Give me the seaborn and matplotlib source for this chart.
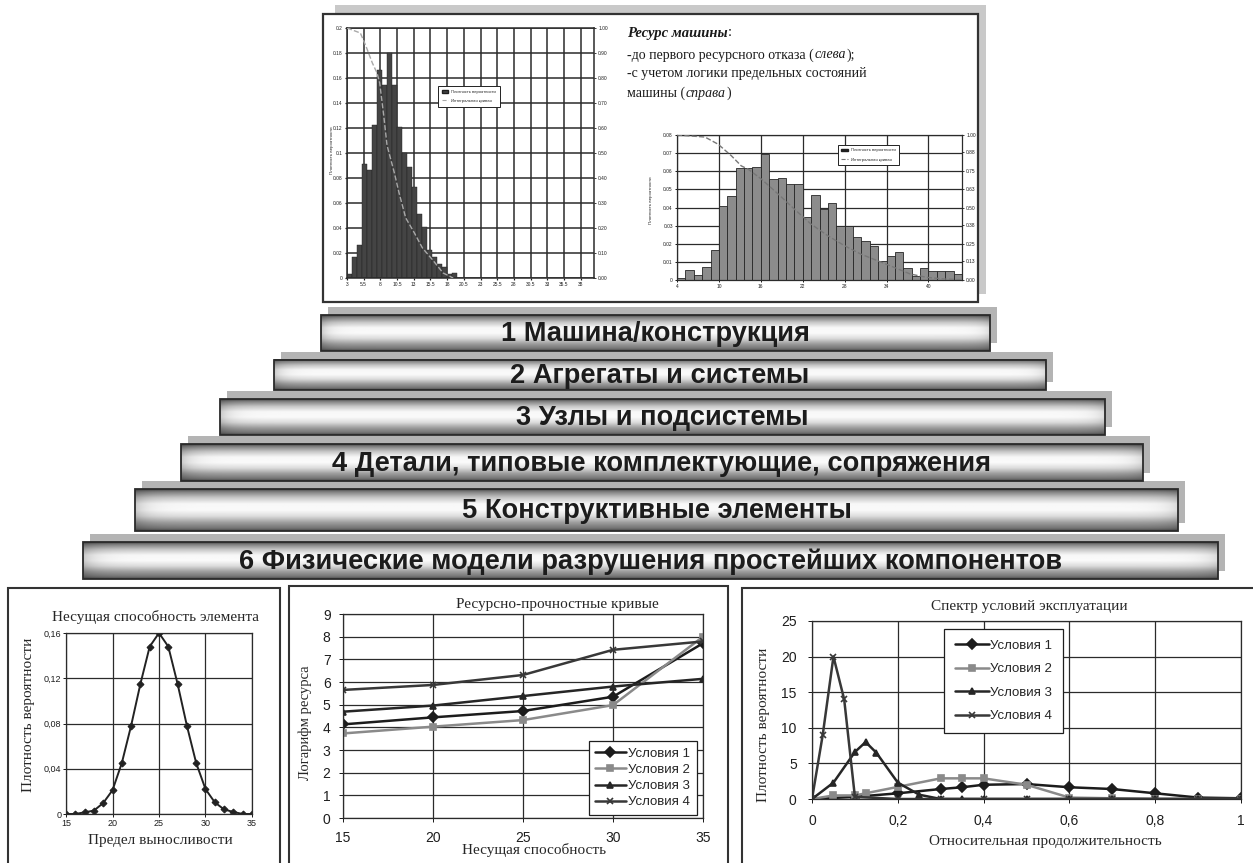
import numpy as np
import pandas as pd
import matplotlib
matplotlib.use("Agg")
import matplotlib.pyplot as plt
import seaborn as sns
from matplotlib.patches import Rectangle, Patch
from matplotlib.lines import Line2D

sns.set_theme(style="white")
SANS = ['Liberation Sans', 'DejaVu Sans']
SERIF = ['Liberation Serif', 'DejaVu Serif']
plt.rcParams['font.family'] = SANS

# ------------------------------------------------------------------ DATA
level_labels = [
    "1 Машина/конструкция",
    "2 Агрегаты и системы",
    "3 Узлы и подсистемы",
    "4 Детали, типовые комплектующие, сопряжения",
    "5 Конструктивные элементы",
    "6 Физические модели разрушения простейших компонентов",
]

# top-left histogram (resource to first failure)
res1_x = [3.38, 4.13, 4.88, 5.63, 6.38, 7.13, 7.88, 8.63, 9.38, 10.13, 10.88,
          11.63, 12.38, 13.13, 13.88, 14.63, 15.38, 16.13, 16.88, 17.63, 18.38, 19.13]
res1_density = [0.003, 0.017, 0.026, 0.091, 0.086, 0.122, 0.166, 0.154, 0.180, 0.154, 0.121,
                0.100, 0.089, 0.073, 0.051, 0.041, 0.022, 0.017, 0.011, 0.009, 0.003, 0.004]
res1_curve_x = [3.0, 5.0, 5.8, 6.8, 7.5, 7.9, 8.5, 9.0, 10.1, 10.8, 11.8, 13.1, 14.3, 15.9, 17.4, 18.9]
res1_curve_y = [1.00, 0.98, 0.93, 0.86, 0.82, 0.78, 0.65, 0.53, 0.42, 0.34, 0.24, 0.18, 0.12, 0.07, 0.02, 0.00]
res1_xticklabels = ["3", "5.5", "8", "10.5", "13", "15.5", "18", "20.5", "23", "25.5",
                    "28", "30.5", "33", "35.5", "38"]
res1_yticklabels = ["0", "0.02", "0.04", "0.06", "0.08", "0.1", "0.12", "0.14", "0.16", "0.18", "0.2"]
res1_y2ticklabels = ["0.00", "0.10", "0.20", "0.30", "0.40", "0.50", "0.60", "0.70", "0.80", "0.90", "1.00"]

# top-right histogram (resource with limit-state logic)
res2_x = [4.6, 5.8, 7.0, 8.2, 9.4, 10.6, 11.8, 13.0, 14.2, 15.4, 16.6, 17.8, 19.0, 20.2, 21.4,
          22.6, 23.8, 25.0, 26.2, 27.4, 28.6, 29.8, 31.0, 32.2, 33.4, 34.6, 35.8, 37.0, 38.2,
          39.4, 40.6, 41.8, 43.0, 44.2]
res2_density = [0.001, 0.0055, 0.003, 0.007, 0.0165, 0.041, 0.0465, 0.062, 0.062, 0.0626, 0.0697,
                0.0556, 0.0565, 0.0532, 0.0528, 0.0345, 0.047, 0.039, 0.0424, 0.030, 0.030, 0.0235,
                0.0217, 0.019, 0.0106, 0.0134, 0.0156, 0.0066, 0.0024, 0.0064, 0.0048, 0.0051,
                0.0048, 0.0033]
res2_curve_x = [4.0, 8.0, 9.9, 11.8, 13.2, 14.2, 16.1, 18.5, 20.8, 23.2, 25.6, 28.0, 30.3, 32.7,
                35.1, 37.4, 39.8, 42.2, 44.8]
res2_curve_y = [1.0, 0.986, 0.936, 0.856, 0.787, 0.764, 0.695, 0.592, 0.489, 0.385, 0.305, 0.236,
                0.179, 0.133, 0.087, 0.041, 0.018, 0.007, 0.002]
res2_xticklabels = ["4", "10", "16", "22", "28", "34", "40"]
res2_yticklabels = ["0", "0.01", "0.02", "0.03", "0.04", "0.05", "0.06", "0.07", "0.08"]
res2_y2ticklabels = ["0.00", "0.13", "0.25", "0.38", "0.50", "0.63", "0.75", "0.88", "1.00"]
hist_legend_labels = ["Плотность вероятности", "Интегральная кривая"]

# bottom-left: element load capacity
strength_x = [15, 16, 17, 18, 19, 20, 21, 22, 23, 24, 25, 26, 27, 28, 29, 30, 31, 32, 33, 34, 35]
strength_pdf = [0.0, 0.0, 0.0015, 0.003, 0.0097, 0.021, 0.045, 0.078, 0.115, 0.148, 0.160,
                0.148, 0.115, 0.078, 0.045, 0.022, 0.0103, 0.004, 0.0018, 0.0, 0.0]
strength_yticklabels = ["0", "0,04", "0,08", "0,12", "0,16"]

# bottom-middle: resource-strength curves
cond_names = ["Условия 1", "Условия 2", "Условия 3", "Условия 4"]
capacity = [15, 20, 25, 30, 35]
log_res_1 = [4.13, 4.44, 4.72, 5.35, 7.71]
log_res_2 = [3.73, 4.03, 4.32, 4.98, 8.00]
log_res_3 = [4.69, 4.96, 5.38, 5.80, 6.14]
log_res_4 = [5.65, 5.87, 6.31, 7.42, 7.79]

# bottom-right: spectrum of operating conditions
cond1_x = [0, 0.1, 0.2, 0.3, 0.35, 0.4, 0.5, 0.6, 0.7, 0.8, 0.9, 1.0]
cond1_y = [0, 0.3, 0.8, 1.4, 1.65, 2.0, 2.1, 1.65, 1.4, 0.8, 0.2, 0.1]
cond2_x = [0, 0.05, 0.1, 0.125, 0.2, 0.3, 0.35, 0.4, 0.5, 0.6, 0.7, 0.8, 0.9, 1.0]
cond2_y = [0, 0.5, 0.5, 0.8, 1.7, 2.9, 2.9, 2.9, 2.0, 0.2, 0.1, 0.0, 0.0, 0.0]
cond3_x = [0, 0.05, 0.1, 0.125, 0.15, 0.2, 0.25, 0.3, 0.35, 0.4, 0.5, 0.6, 0.7, 0.8, 0.9, 1.0]
cond3_y = [0, 2.3, 6.6, 8.0, 6.5, 2.3, 0.6, 0, 0, 0, 0, 0, 0, 0, 0, 0]
cond4_x = [0, 0.025, 0.05, 0.075, 0.1, 0.2, 0.3, 0.4, 0.5, 0.6, 0.7, 0.8, 0.9, 1.0]
cond4_y = [0, 9.0, 20.0, 14.0, 0.3, 0, 0, 0, 0, 0, 0, 0, 0, 0]
spectrum_xticklabels = ["0", "0,2", "0,4", "0,6", "0,8", "1"]

# ------------------------------------------------------------------ LAYOUT
W, H = 1253, 863
fig = plt.figure(figsize=(W / 100, H / 100), dpi=100)
fig.patch.set_facecolor('white')


def px_rect(l, t, r, b):
    return [l / W, 1 - b / H, (r - l) / W, (b - t) / H]


ax_bg = fig.add_axes([0, 0, 1, 1])
ax_bg.set_axis_off()

# top panel box with shadow
ax_bg.add_patch(Rectangle((335, 5), 986 - 335, 294 - 5, facecolor='#c9c9c9', edgecolor='none', zorder=1))
ax_bg.add_patch(Rectangle((323, 14), 978 - 323, 302 - 14, facecolor='white', edgecolor='#333333', lw=1.6, zorder=1.5))

# bottom panel boxes
for (l, t, r, b) in [(8, 588, 280, 880), (289, 586, 728, 880), (742, 588, 1270, 880)]:
    ax_bg.add_patch(Rectangle((l, t), r - l, b - t, facecolor='white', edgecolor='#333333', lw=1.5, zorder=1.5))

# pyramid of levels (metallic cylinders)
bars_px = [(321, 315, 990, 351), (274, 360, 1046, 390), (220, 399, 1105, 435),
           (181, 444, 1143, 481), (135, 489, 1178, 531), (83, 542, 1218, 579)]
prof_pos = [0, 0.06, 0.2, 0.35, 0.5, 0.65, 0.8, 0.94, 1.0]
prof_val = [0.28, 0.50, 0.78, 0.97, 0.98, 0.86, 0.62, 0.45, 0.28]
col = np.interp(np.linspace(0, 1, 80), prof_pos, prof_val)
hx = np.linspace(0, 1, 400)
hfac = 1 - 0.18 * np.exp(-hx / 0.012) - 0.12 * np.exp(-(1 - hx) / 0.012)
grad = col[:, None] * hfac[None, :]
for (l, t, r, b), lab in zip(bars_px, level_labels):
    ax_bg.add_patch(Rectangle((l + 7, t - 8), r - l, b - t, facecolor='#b4b4b4', edgecolor='none', zorder=2))
    ax_bg.imshow(grad, cmap='gray', vmin=0, vmax=1, extent=(l, r, b, t), aspect='auto',
                 interpolation='bilinear', zorder=3)
    ax_bg.add_patch(Rectangle((l, t), r - l, b - t, facecolor='none', edgecolor='#2a2a2a', lw=1.3, zorder=4))
    ax_bg.text((l + r) / 2, (t + b) / 2 + 1, lab, ha='center', va='center', fontsize=19.6,
               weight='bold', color='#1c1c1c', family=SANS, zorder=5)

ax_bg.set_xlim(0, W)
ax_bg.set_ylim(H, 0)

# ---- top descriptive text with mixed styles
renderer = fig.canvas.get_renderer()


def rich_line(x, y, pieces, size=10):
    for txt, st, wt in pieces:
        t = ax_bg.text(x, y, txt, fontsize=size, family=SERIF, style=st, weight=wt,
                       ha='left', va='center', color='#1a1a1a', zorder=6)
        x += t.get_window_extent(renderer=renderer).width + 0.5


rich_line(627, 33, [("Ресурс машины", 'italic', 'bold'), (":", 'normal', 'normal')], 10.5)
rich_line(627, 55, [("-до первого ресурсного отказа (", 'normal', 'normal'), ("слева", 'italic', 'normal'),
                    (");", 'normal', 'normal')])
rich_line(627, 74, [("-с учетом логики предельных состояний", 'normal', 'normal')])
rich_line(627, 93, [("машины (", 'normal', 'normal'), ("справа", 'italic', 'normal'), (")", 'normal', 'normal')])


def excel_axes(ax, lw=0.9, fs=9, pad=3, length=3, gc='#2b2b2b'):
    ax.set_facecolor('white')
    ax.grid(True, color=gc, linewidth=lw)
    ax.set_axisbelow(True)
    for s in ax.spines.values():
        s.set_color(gc)
        s.set_linewidth(lw)
    ax.tick_params(axis='both', which='both', direction='out', length=length, width=lw * 0.8,
                   colors='#1e1e1e', labelsize=fs, pad=pad, bottom=True, left=True)
    ax.set_xlabel('')
    ax.set_ylabel('')


# ---- top-left histogram
ax_h1 = fig.add_axes(px_rect(347, 28, 594, 278))
sns.barplot(x=res1_x, y=res1_density, native_scale=True, width=1.0, color='#444444', saturation=1,
            edgecolor='#1e1e1e', linewidth=0.3, errorbar=None, ax=ax_h1)
excel_axes(ax_h1, lw=1.1, fs=3.5, pad=1.5, length=1.5)
ax_h1.set_xlim(3, 40)
ax_h1.set_xticks([float(v) for v in res1_xticklabels])
ax_h1.set_xticklabels(res1_xticklabels)
ax_h1.set_ylim(0, 0.2)
ax_h1.set_yticks([float(v) for v in res1_yticklabels])
ax_h1.set_yticklabels(res1_yticklabels)
ax_h1b = ax_h1.twinx()
sns.lineplot(x=res1_curve_x, y=res1_curve_y, ax=ax_h1b, color='#a8a8a8', linewidth=1.0, linestyle='--')
ax_h1b.set_ylim(0, 1)
ax_h1b.set_yticks([float(v) for v in res1_y2ticklabels])
ax_h1b.set_yticklabels(res1_y2ticklabels)
ax_h1b.grid(False)
ax_h1b.set_ylabel('')
for s in ax_h1b.spines.values():
    s.set_visible(False)
ax_h1b.tick_params(axis='y', right=True, length=1.5, width=0.6, labelsize=3.5, pad=1.5, colors='#1e1e1e')
leg_handles = [Patch(facecolor='#444444', edgecolor='#1e1e1e', label=hist_legend_labels[0]),
               Line2D([], [], color='#a8a8a8', ls='--', lw=0.8, label=hist_legend_labels[1])]
lg = ax_h1b.legend(handles=leg_handles, loc='upper left', bbox_to_anchor=(0.368, 0.768), fontsize=3,
                   frameon=True, fancybox=False, edgecolor='#222222', framealpha=1, borderaxespad=0,
                   handlelength=1.5, labelspacing=1.2, borderpad=0.9)
lg.get_frame().set_linewidth(0.7)
ax_bg.text(332, 150, "Плотность вероятности", rotation=90, fontsize=3.2, ha='center', va='center', zorder=6)

# ---- top-right histogram
ax_h2 = fig.add_axes(px_rect(677, 135, 962, 280))
sns.barplot(x=res2_x, y=res2_density, native_scale=True, width=1.0, color='#8c8c8c', saturation=1,
            edgecolor='#262626', linewidth=0.6, errorbar=None, ax=ax_h2)
excel_axes(ax_h2, lw=0.9, fs=3.5, pad=1.5, length=1.5)
ax_h2.set_xlim(4, 44.8)
ax_h2.set_xticks([float(v) for v in res2_xticklabels])
ax_h2.set_xticklabels(res2_xticklabels)
ax_h2.set_ylim(0, 0.08)
ax_h2.set_yticks([float(v) for v in res2_yticklabels])
ax_h2.set_yticklabels(res2_yticklabels)
ax_h2b = ax_h2.twinx()
sns.lineplot(x=res2_curve_x, y=res2_curve_y, ax=ax_h2b, color='#777777', linewidth=1.0, linestyle='--')
ax_h2b.set_ylim(0, 1)
ax_h2b.set_yticks([float(v) for v in res2_y2ticklabels])
ax_h2b.set_yticklabels(res2_y2ticklabels)
ax_h2b.grid(False)
ax_h2b.set_ylabel('')
for s in ax_h2b.spines.values():
    s.set_visible(False)
ax_h2b.tick_params(axis='y', right=True, length=1.5, width=0.6, labelsize=3.5, pad=1.5, colors='#1e1e1e')
leg_handles2 = [Patch(facecolor='#222222', edgecolor='#1e1e1e', label=hist_legend_labels[0]),
                Line2D([], [], color='#777777', ls='--', lw=0.8, label=hist_legend_labels[1])]
lg2 = ax_h2b.legend(handles=leg_handles2, loc='upper left', bbox_to_anchor=(0.565, 0.93), fontsize=3,
                    frameon=True, fancybox=False, edgecolor='#222222', framealpha=1, borderaxespad=0,
                    handlelength=1.5, labelspacing=1.3, borderpad=0.8)
lg2.get_frame().set_linewidth(0.7)
ax_bg.text(651, 200, "Плотность вероятности", rotation=90, fontsize=3.2, ha='center', va='center', zorder=6)

# ---- bottom-left: load capacity density
ax_s = fig.add_axes(px_rect(66, 633, 252, 814))
excel_axes(ax_s, lw=0.9, fs=6.5, pad=1.5, length=2)
sns.lineplot(x=strength_x, y=strength_pdf, ax=ax_s, color='#222222', linewidth=1.4, marker='D',
             markersize=3.5, markeredgecolor='#222222', markerfacecolor='#222222')
ax_s.set_xlim(15, 35)
ax_s.set_xticks([15, 20, 25, 30, 35])
ax_s.set_ylim(0, 0.16)
ax_s.set_yticks([float(v.replace(',', '.')) for v in strength_yticklabels])
ax_s.set_yticklabels(strength_yticklabels)
ax_s.set_xlabel('')
ax_s.set_ylabel('')
ax_bg.text(156, 617, "Несущая способность элемента", fontsize=11, family=SERIF, ha='center', va='center', zorder=6)
ax_bg.text(160, 840, "Предел выносливости", fontsize=11, family=SERIF, ha='center', va='center', zorder=6)
ax_bg.text(29, 715, "Плотность вероятности", fontsize=11, family=SERIF, rotation=90, ha='center', va='center', zorder=6)

# ---- bottom-middle: resource-strength curves
line_colors = ['#1c1c1c', '#8a8a8a', '#262626', '#383838']
line_markers = ['D', 's', '^', 'x']
ax_m = fig.add_axes(px_rect(343, 614, 703, 818))
excel_axes(ax_m, lw=0.9, fs=10, pad=6, length=3)
for name, ys, c, m in zip(cond_names, [log_res_1, log_res_2, log_res_3, log_res_4], line_colors, line_markers):
    sns.lineplot(x=capacity, y=ys, ax=ax_m, color=c, linewidth=1.8, marker=m, markersize=5,
                 markeredgecolor=c, markerfacecolor=c, markeredgewidth=1.2, label=name)
ax_m.set_xlim(15, 35)
ax_m.set_xticks(capacity)
ax_m.set_ylim(0, 9)
ax_m.set_yticks(range(0, 10))
ax_m.set_xlabel('')
ax_m.set_ylabel('')
h, l = ax_m.get_legend_handles_labels()
lgm = ax_m.legend(h, l, loc='lower right', bbox_to_anchor=(0.983, 0.015), frameon=True, fancybox=False,
                  edgecolor='#1e1e1e', framealpha=1, fontsize=9.5, handlelength=2.3, handletextpad=0.2,
                  labelspacing=0.3, borderpad=0.5, borderaxespad=0)
lgm.get_frame().set_linewidth(0.9)
ax_bg.text(557, 604, "Ресурсно-прочностные кривые", fontsize=11, family=SERIF, ha='center', va='center', zorder=6)
ax_bg.text(534, 850, "Несущая способность", fontsize=11, family=SERIF, ha='center', va='center', zorder=6)
ax_bg.text(305, 723, "Логарифм ресурса", fontsize=10.5, family=SERIF, rotation=90, ha='center', va='center', zorder=6)

# ---- bottom-right: spectrum of operating conditions
ax_r = fig.add_axes(px_rect(812, 621, 1241, 799))
excel_axes(ax_r, lw=0.9, fs=10, pad=8, length=3)
for name, xs, ys, c, m in zip(cond_names, [cond1_x, cond2_x, cond3_x, cond4_x],
                              [cond1_y, cond2_y, cond3_y, cond4_y], line_colors, line_markers):
    sns.lineplot(x=xs, y=ys, ax=ax_r, color=c, linewidth=1.8, marker=m, markersize=5,
                 markeredgecolor=c, markerfacecolor=c, markeredgewidth=1.2, label=name)
ax_r.set_xlim(0, 1)
ax_r.set_xticks([float(v.replace(',', '.')) for v in spectrum_xticklabels])
ax_r.set_xticklabels(spectrum_xticklabels)
ax_r.set_ylim(0, 25)
ax_r.set_yticks([0, 5, 10, 15, 20, 25])
ax_r.set_xlabel('')
ax_r.set_ylabel('')
h, l = ax_r.get_legend_handles_labels()
lgr = ax_r.legend(h, l, loc='upper left', bbox_to_anchor=(0.308, 0.955), frameon=True, fancybox=False,
                  edgecolor='#1e1e1e', framealpha=1, fontsize=9.5, handlelength=2.6, handletextpad=0.1,
                  labelspacing=0.85, borderpad=0.8, borderaxespad=0)
lgr.get_frame().set_linewidth(0.9)
ax_bg.text(1029, 606, "Спектр условий эксплуатации", fontsize=11, family=SERIF, ha='center', va='center', zorder=6)
ax_bg.text(1045, 841, "Относительная продолжительность", fontsize=11, family=SERIF, ha='center', va='center', zorder=6)
ax_bg.text(763, 725, "Плотность вероятности", fontsize=11, family=SERIF, rotation=90, ha='center', va='center', zorder=6)

fig.savefig("out.png", dpi=100, facecolor='white')
